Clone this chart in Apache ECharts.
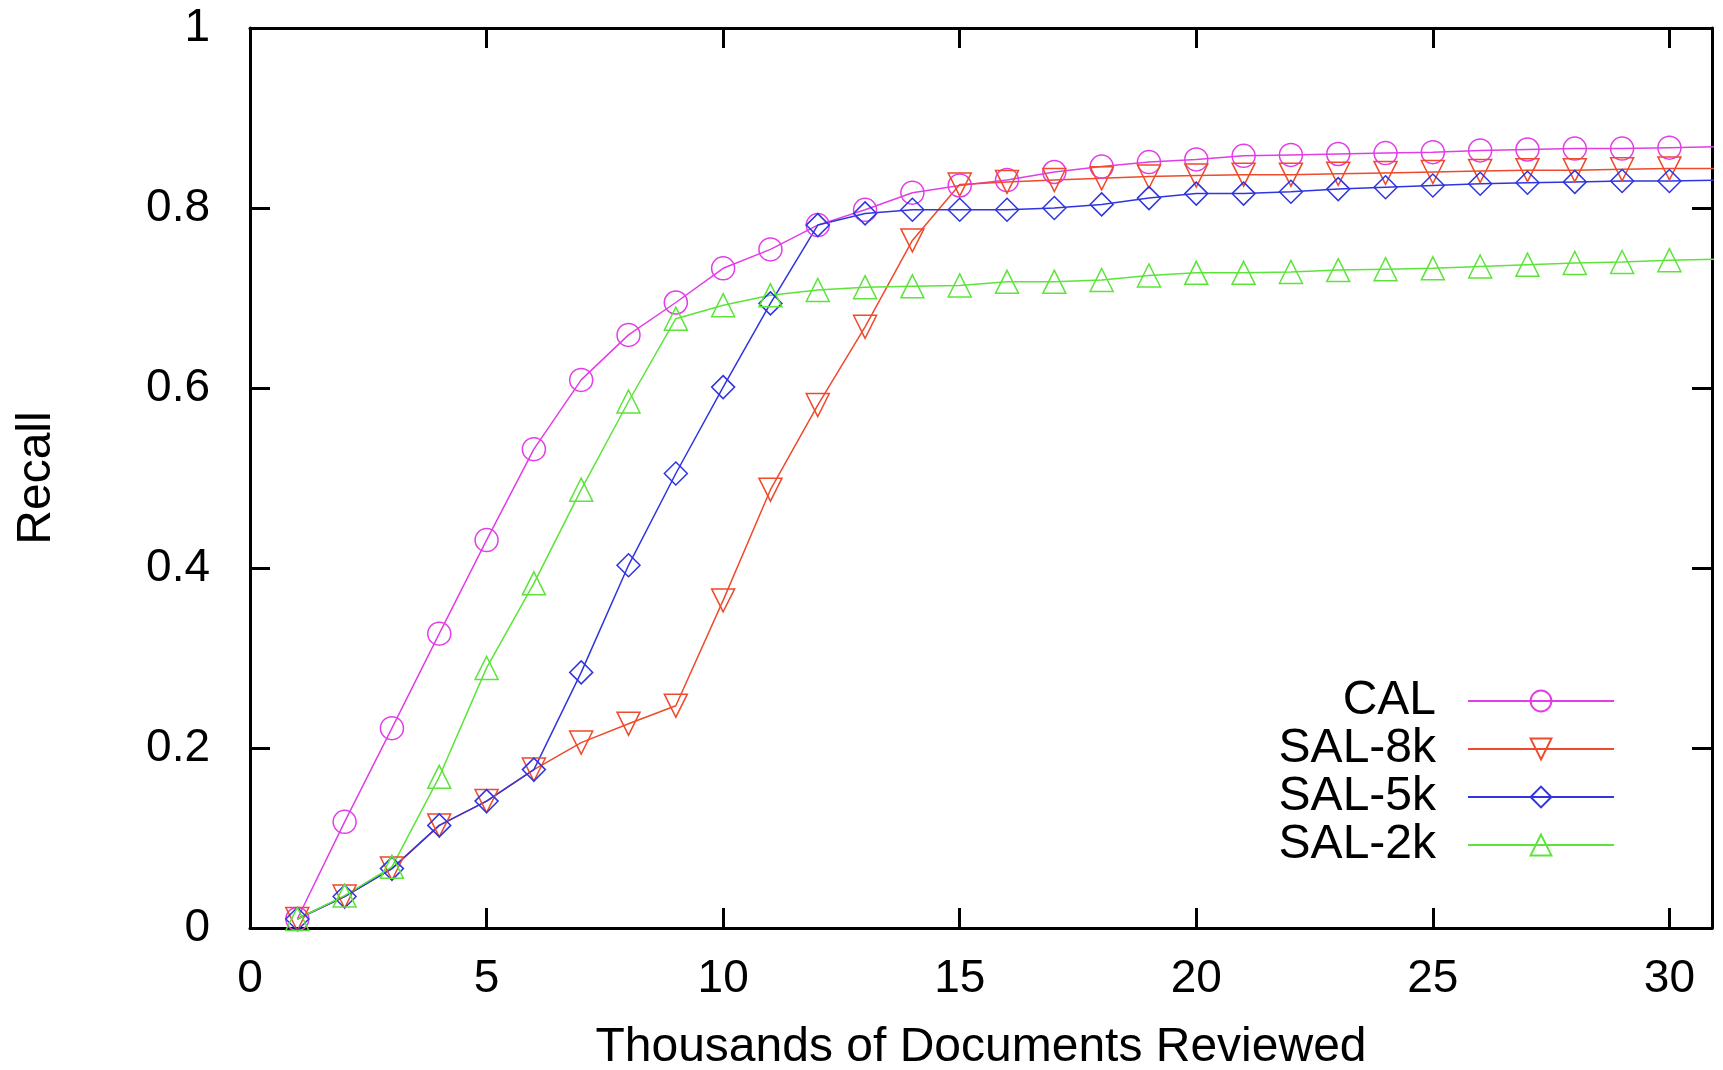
<!DOCTYPE html>
<html>
<head>
<meta charset="utf-8">
<script src="https://cdn.jsdelivr.net/npm/echarts@6/dist/echarts.min.js"></script>
<style>
  html, body { margin: 0; padding: 0; background: #fff; }
  #chart-container { width: 1723px; height: 1070px; }
</style>
</head>
<body>
<div id="chart-container"></div>
<script>
// thousands of documents reviewed (last point lies past the right border, clipped)
const docs = [1, 2, 3, 4, 5, 6, 7, 8, 9, 10, 11, 12, 13, 14, 15, 16, 17, 18, 19, 20, 21, 22, 23, 24, 25, 26, 27, 28, 29, 30, 31]

const cal = [0.010, 0.118, 0.222, 0.327, 0.431, 0.532, 0.609, 0.659, 0.695, 0.733, 0.754, 0.781, 0.798, 0.817, 0.825, 0.831, 0.840, 0.846, 0.851, 0.854, 0.858, 0.859, 0.860, 0.861, 0.862, 0.864, 0.865, 0.866, 0.866, 0.867, 0.868]
const sal8k = [0.010, 0.035, 0.066, 0.114, 0.141, 0.176, 0.206, 0.227, 0.247, 0.364, 0.487, 0.581, 0.668, 0.764, 0.826, 0.829, 0.831, 0.833, 0.835, 0.836, 0.837, 0.837, 0.838, 0.839, 0.840, 0.841, 0.842, 0.842, 0.843, 0.844, 0.844]
const sal5k = [0.010, 0.035, 0.066, 0.114, 0.141, 0.176, 0.284, 0.403, 0.505, 0.601, 0.694, 0.781, 0.794, 0.798, 0.798, 0.798, 0.800, 0.804, 0.811, 0.816, 0.816, 0.818, 0.821, 0.823, 0.825, 0.827, 0.828, 0.829, 0.830, 0.830, 0.831]
const sal2k = [0.010, 0.036, 0.068, 0.168, 0.289, 0.383, 0.487, 0.585, 0.677, 0.692, 0.703, 0.709, 0.712, 0.713, 0.714, 0.718, 0.718, 0.720, 0.725, 0.728, 0.728, 0.729, 0.731, 0.732, 0.733, 0.735, 0.737, 0.739, 0.740, 0.742, 0.743]

const xTicks = [0, 5, 10, 15, 20, 25, 30]
const yTicks = [0, 0.2, 0.4, 0.6, 0.8, 1]

const font = "'Liberation Sans', Arial, sans-serif"

const pairs = ys => docs.map((x, i) => [x, ys[i]])

const makeSeries = (name, ys, color, symbol, rotate) => ({
  name: name,
  type: 'line',
  data: pairs(ys),
  symbol: symbol,
  symbolSize: 23,
  symbolRotate: rotate,
  clip: true,
  itemStyle: {
    color: 'transparent',
    borderColor: color,
    borderWidth: 1.5
  },
  lineStyle: {
    color: color,
    width: 1.5
  },
  emphasis: { disabled: true }
})

const frameAxis = {
  axisLine: { show: true, onZero: false, lineStyle: { color: '#000', width: 3 } },
  axisTick: { show: true, inside: true, length: 20, lineStyle: { color: '#000', width: 3 } },
  splitLine: { show: false }
}

const dom = document.getElementById('chart-container')
const myChart = echarts.init(dom, null, { renderer: 'canvas' })

const options = {
  animation: false,
  backgroundColor: '#fff',
  textStyle: { fontFamily: font },
  grid: { left: 250, right: 11, top: 28, bottom: 142, outerBoundsMode: 'none', containLabel: false },
  legend: {
    orient: 'vertical',
    align: 'right',
    right: 108,
    top: 677,
    padding: 0,
    itemWidth: 146,
    itemHeight: 26,
    itemGap: 0,
    textStyle: { fontSize: 48, color: '#000', fontFamily: font, lineHeight: 30, padding: [0, 27, 0, 0] },
    data: ['CAL', 'SAL-8k', 'SAL-5k', 'SAL-2k']
  },
  xAxis: [
    {
      type: 'value',
      position: 'bottom',
      min: 0,
      max: 30.9,
      name: 'Thousands of Documents Reviewed',
      nameLocation: 'middle',
      nameGap: 96,
      nameMoveOverlap: false,
      nameTextStyle: { fontSize: 48, color: '#000', fontFamily: font },
      ...frameAxis,
      axisTick: { ...frameAxis.axisTick, customValues: xTicks },
      axisLabel: { customValues: xTicks, fontSize: 46, color: '#000', margin: 28, fontFamily: font }
    },
    {
      type: 'value',
      position: 'top',
      min: 0,
      max: 30.9,
      ...frameAxis,
      axisTick: { ...frameAxis.axisTick, customValues: xTicks },
      axisLabel: { show: false }
    }
  ],
  yAxis: [
    {
      type: 'value',
      position: 'left',
      min: 0,
      max: 1,
      name: 'Recall',
      nameLocation: 'middle',
      nameRotate: 90,
      nameGap: 189,
      nameMoveOverlap: false,
      nameTextStyle: { fontSize: 48, color: '#000', fontFamily: font },
      ...frameAxis,
      axisTick: { ...frameAxis.axisTick, customValues: yTicks },
      axisLabel: { customValues: yTicks, fontSize: 46, color: '#000', margin: 40, fontFamily: font }
    },
    {
      type: 'value',
      position: 'right',
      min: 0,
      max: 1,
      ...frameAxis,
      axisTick: { ...frameAxis.axisTick, customValues: yTicks },
      axisLabel: { show: false }
    }
  ],
  series: [
    makeSeries('CAL', cal, '#e23de6', 'circle', 0),
    makeSeries('SAL-8k', sal8k, '#ee4a2b', 'triangle', 180),
    makeSeries('SAL-5k', sal5k, '#2f35e0', 'diamond', 0),
    makeSeries('SAL-2k', sal2k, '#5ce43a', 'triangle', 0)
  ]
}

if (options && typeof options === 'object') {
  myChart.setOption(options)
}

window.addEventListener('resize', myChart.resize)
</script>
</body>
</html>
